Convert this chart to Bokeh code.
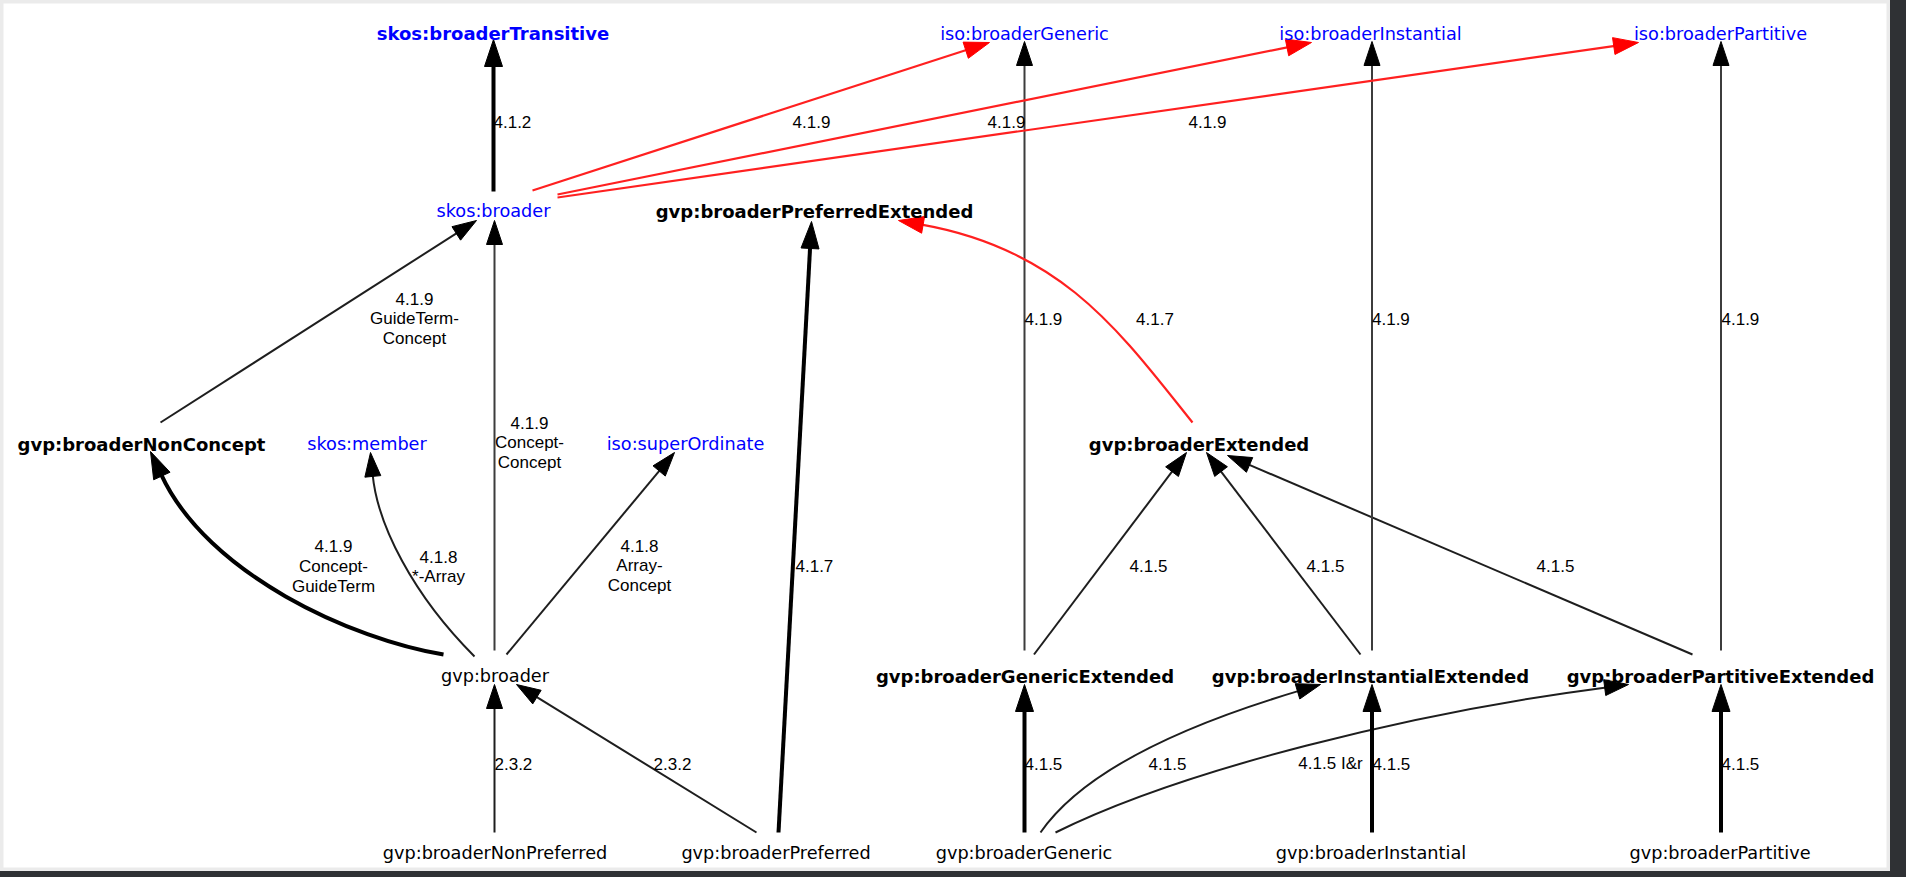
import numpy as np
from bokeh.plotting import figure
from bokeh.models import Range1d, ColumnDataSource
from bokeh.core.properties import value
from bokeh.embed import file_html
from bokeh.resources import INLINE

# ---------------- data: nodes ----------------
node_names = [
    "skos:broaderTransitive", "iso:broaderGeneric", "iso:broaderInstantial", "iso:broaderPartitive",
    "skos:broader", "gvp:broaderPreferredExtended",
    "gvp:broaderNonConcept", "skos:member", "iso:superOrdinate", "gvp:broaderExtended",
    "gvp:broader", "gvp:broaderGenericExtended", "gvp:broaderInstantialExtended", "gvp:broaderPartitiveExtended",
    "gvp:broaderNonPreferred", "gvp:broaderPreferred", "gvp:broaderGeneric", "gvp:broaderInstantial", "gvp:broaderPartitive",
]
node_bold = [True, False, False, False,
             False, True,
             True, False, False, True,
             False, True, True, True,
             False, False, False, False, False]
node_external = [True, True, True, True,
                 True, False,
                 False, True, True, False,
                 False, False, False, False,
                 False, False, False, False, False]

# ---------------- data: edges ----------------
edge_src = ["skos:broader", "skos:broader", "skos:broader", "skos:broader",
            "gvp:broaderGenericExtended", "gvp:broaderInstantialExtended", "gvp:broaderPartitiveExtended",
            "gvp:broaderExtended", "gvp:broaderNonConcept", "gvp:broader", "gvp:broader", "gvp:broader", "gvp:broader",
            "gvp:broaderPreferred", "gvp:broaderNonPreferred", "gvp:broaderPreferred",
            "gvp:broaderGenericExtended", "gvp:broaderInstantialExtended", "gvp:broaderPartitiveExtended",
            "gvp:broaderGeneric", "gvp:broaderGeneric", "gvp:broaderGeneric", "gvp:broaderInstantial", "gvp:broaderPartitive"]
edge_dst = ["skos:broaderTransitive", "iso:broaderGeneric", "iso:broaderInstantial", "iso:broaderPartitive",
            "iso:broaderGeneric", "iso:broaderInstantial", "iso:broaderPartitive",
            "gvp:broaderPreferredExtended", "skos:broader", "skos:broader", "gvp:broaderNonConcept", "skos:member", "iso:superOrdinate",
            "gvp:broaderPreferredExtended", "gvp:broader", "gvp:broader",
            "gvp:broaderExtended", "gvp:broaderExtended", "gvp:broaderExtended",
            "gvp:broaderGenericExtended", "gvp:broaderInstantialExtended", "gvp:broaderPartitiveExtended",
            "gvp:broaderInstantialExtended", "gvp:broaderPartitiveExtended"]
edge_label = ["4.1.2", "4.1.9", "4.1.9", "4.1.9",
              "4.1.9", "4.1.9", "4.1.9",
              "4.1.7", "4.1.9\nGuideTerm-\nConcept", "4.1.9\nConcept-\nConcept", "4.1.9\nConcept-\nGuideTerm",
              "4.1.8\n*-Array", "4.1.8\nArray-\nConcept",
              "4.1.7", "2.3.2", "2.3.2",
              "4.1.5", "4.1.5", "4.1.5",
              "4.1.5", "4.1.5", "4.1.5 I&r", "4.1.5", "4.1.5"]
edge_kind = ["thick", "red", "red", "red",
             "long", "long", "long",
             "red", "thin", "long", "thick", "thin", "thin",
             "thick", "thin", "thin",
             "thin", "thin", "thin",
             "thick", "thin", "thin", "thick", "thick"]

# ---------------- layout (pixel positions of the drawing) ----------------
node_pos = {
    "skos:broaderTransitive": (500.5, 39), "iso:broaderGeneric": (1032, 39),
    "iso:broaderInstantial": (1378, 39), "iso:broaderPartitive": (1728, 39),
    "skos:broader": (501, 216.5), "gvp:broaderPreferredExtended": (822, 216.5),
    "gvp:broaderNonConcept": (149, 449.5), "skos:member": (374.5, 449.5),
    "iso:superOrdinate": (693, 449.5), "gvp:broaderExtended": (1206.5, 449.5),
    "gvp:broader": (502.5, 681.5), "gvp:broaderGenericExtended": (1032.5, 681.5),
    "gvp:broaderInstantialExtended": (1378, 681.5), "gvp:broaderPartitiveExtended": (1728, 681.5),
    "gvp:broaderNonPreferred": (502.5, 858.5), "gvp:broaderPreferred": (783.5, 858.5),
    "gvp:broaderGeneric": (1031.5, 858.5), "gvp:broaderInstantial": (1378.5, 858.5),
    "gvp:broaderPartitive": (1727.5, 858.5),
}
edge_start = [(501, 197), (540, 196), (565, 200), (565, 203),
              (1032, 656), (1379.5, 656), (1728.5, 656),
              (1200, 428), (168, 428), (502, 656), (451, 660), (482, 662), (514, 660),
              (786, 838), (502, 838), (764, 838),
              (1041.5, 660), (1368, 660), (1700, 660),
              (1032, 838), (1048, 838), (1063, 838), (1379.5, 838), (1728.5, 838)]
edge_tip = [(501, 45), (997, 48), (1319, 48), (1646, 48),
            (1032, 47), (1379.5, 47), (1728.5, 47),
            (906, 226), (484, 226), (502, 226), (158, 457), (378, 458), (682, 458),
            (819, 227), (502, 690), (524, 690),
            (1194, 458), (1214, 458), (1235, 461),
            (1032, 690), (1328, 690), (1636, 690), (1379.5, 690), (1728.5, 690)]
edge_ctrl = {7: ((1128, 338), (1070, 255)),
             10: ((360, 645), (215, 580)),
             11: ((420, 600), (385, 530)),
             20: ((1095, 770), (1210, 725)),
             21: ((1190, 775), (1420, 718))}
# label anchor: (x, center y, align)
edge_label_pos = [(501, 121.7, "left"), (819, 121.7, "center"), (1014, 121.7, "center"), (1215, 121.7, "center"),
                  (1032, 318, "left"), (1379.5, 318, "left"), (1729, 318, "left"),
                  (1162.5, 318, "center"), (422, 318, "center"), (537, 442, "center"), (341, 565.5, "center"),
                  (446, 566, "center"), (647, 565, "center"),
                  (803, 565, "left"), (502, 763, "left"), (680, 763, "center"),
                  (1156, 565, "center"), (1333, 565, "center"), (1563, 565, "center"),
                  (1032, 763, "left"), (1175, 763, "center"), (1338, 763, "center"), (1380, 763, "left"), (1729, 763, "left")]

style = {
    "thin":  dict(color="#1e1e1e", width=2.0, head="#000000", L=24, W=16),
    "long":  dict(color="#3c3c3c", width=2.0, head="#000000", L=24, W=16),
    "red":   dict(color="#ff2020", width=2.2, head="#ff0000", L=25, W=17),
    "thick": dict(color="#000000", width=4.0, head="#000000", L=27, W=18),
}

# ---------------- figure ----------------
TOP = 6
p = figure(width=1890, height=877 - TOP, x_range=Range1d(8, 1898), y_range=Range1d(877, TOP),
           output_backend="svg", toolbar_location=None, min_border=0,
           x_axis_location=None, y_axis_location=None,
           background_fill_color="white", border_fill_color="white",
           outline_line_color="#ebebeb", outline_line_width=6)
p.grid.visible = False

seg = {k: dict(x0=[], y0=[], x1=[], y1=[]) for k in style}
bez = {k: dict(x0=[], y0=[], x1=[], y1=[], cx0=[], cy0=[], cx1=[], cy1=[]) for k in style}
heads = {k: dict(xs=[], ys=[]) for k in style}

for i, kind in enumerate(edge_kind):
    st = style[kind]
    sx, sy = edge_start[i]
    tx, ty = edge_tip[i]
    if i in edge_ctrl:
        (c1x, c1y), (c2x, c2y) = edge_ctrl[i]
        dx, dy = tx - c2x, ty - c2y
    else:
        dx, dy = tx - sx, ty - sy
    n = np.hypot(dx, dy)
    ux, uy = dx / n, dy / n
    bx, by = tx - st["L"] * ux, ty - st["L"] * uy
    px_, py_ = -uy, ux
    hw = st["W"] / 2
    heads[kind]["xs"].append([tx, bx + hw * px_, bx - hw * px_])
    heads[kind]["ys"].append([ty, by + hw * py_, by - hw * py_])
    ex, ey = bx + 1.5 * ux, by + 1.5 * uy
    if i in edge_ctrl:
        b = bez[kind]
        b["x0"].append(sx); b["y0"].append(sy); b["x1"].append(ex); b["y1"].append(ey)
        b["cx0"].append(c1x); b["cy0"].append(c1y); b["cx1"].append(c2x); b["cy1"].append(c2y)
    else:
        s = seg[kind]
        s["x0"].append(sx); s["y0"].append(sy); s["x1"].append(ex); s["y1"].append(ey)

for kind, st in style.items():
    if seg[kind]["x0"]:
        p.segment(x0="x0", y0="y0", x1="x1", y1="y1", source=ColumnDataSource(seg[kind]),
                  line_color=st["color"], line_width=st["width"])
    if bez[kind]["x0"]:
        p.bezier(x0="x0", y0="y0", x1="x1", y1="y1", cx0="cx0", cy0="cy0", cx1="cx1", cy1="cy1",
                 source=ColumnDataSource(bez[kind]), line_color=st["color"], line_width=st["width"])
    if heads[kind]["xs"]:
        p.patches(xs="xs", ys="ys", source=ColumnDataSource(heads[kind]),
                  fill_color=st["head"], line_color=st["head"], line_width=1)

# edge labels
LINE_H = 20
lab = {"left": dict(x=[], y=[], t=[]), "center": dict(x=[], y=[], t=[])}
for i, txt in enumerate(edge_label):
    lx, ly, al = edge_label_pos[i]
    lines = txt.split("\n")
    k = len(lines)
    for j, ln in enumerate(lines):
        lab[al]["x"].append(lx)
        lab[al]["y"].append(ly + (j - (k - 1) / 2) * LINE_H + 6.0)
        lab[al]["t"].append(ln)
for al, d in lab.items():
    p.text(x="x", y="y", text="t", source=ColumnDataSource(d), text_align=al,
           text_baseline="alphabetic", text_font=value("Liberation Sans"),
           text_font_size=value("17px"), text_color="#000000")

# node labels
for bold in (True, False):
    d = dict(x=[], y=[], t=[], c=[])
    for name, b, ext in zip(node_names, node_bold, node_external):
        if b != bold:
            continue
        x, y = node_pos[name]
        d["x"].append(x); d["y"].append(y); d["t"].append(name)
        d["c"].append("#0000ff" if ext else "#000000")
    p.text(x="x", y="y", text="t", text_color="c", source=ColumnDataSource(d),
           text_align="center", text_baseline="alphabetic",
           text_font=value("DejaVu Sans"), text_font_style="bold" if bold else "normal",
           text_font_size=value("18px" if bold else "17.7px"))

html = file_html(p, INLINE, title="gvp broader relations")
html = html.replace("<head>", "<head><style>html,body{overflow:hidden;}body{background:#2f3134;margin:%dpx 8px 0 8px;}</style>" % TOP, 1)
open("out.html", "w").write(html)
